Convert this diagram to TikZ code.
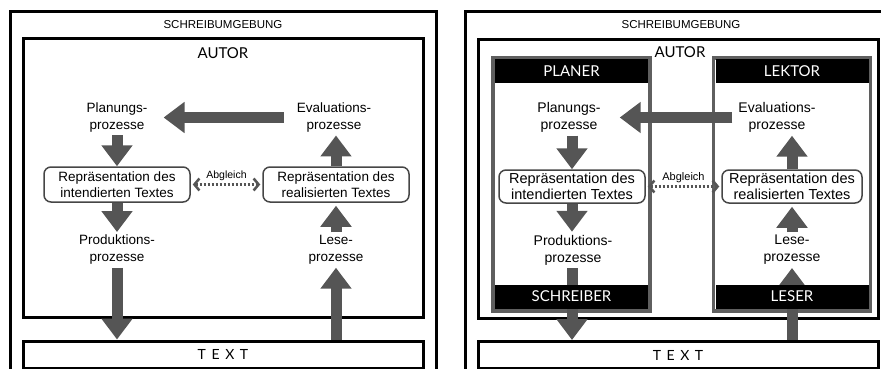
\documentclass[tikz,border=0pt]{standalone}
\usepackage{fontspec}
\setmainfont{Liberation Sans}
\newfontfamily\labelfont{Lato}
\newfontfamily\spacedfont[LetterSpace=40]{Lato}
\usepackage{tikz}
\usetikzlibrary{arrows.meta}
\usetikzlibrary{calc}

\begin{document}
\begin{tikzpicture}[x=1pt, y=-1pt,
 every text node part/.style={align=center},
 frame/.style={draw=black, line width=3pt},
 envlabel/.style={inner sep=1pt, font=\fontsize{11.5}{14}\selectfont},
 autlabel/.style={inner sep=1pt, font=\labelfont\fontsize{15}{18}\selectfont},
 textbox/.style={rectangle, draw=black, line width=3pt, fill=white, inner sep=0pt, minimum width=400pt, minimum height=27pt, font=\spacedfont\fontsize{14}{17}\selectfont},
 role/.style={rectangle, draw=rolegray, line width=3.5pt, fill=white, inner sep=0pt, minimum width=157pt, minimum height=253pt},
 band/.style={rectangle, fill=black, inner sep=0pt, minimum width=153pt, minimum height=24pt, text=white, font=\labelfont\fontsize{15}{18}\selectfont},
 proc/.style={inner sep=3pt, font=\fontsize{13.5}{17}\selectfont},
 rep/.style={rectangle, rounded corners=7pt, draw=repgray, line width=1.5pt, fill=white, inner sep=0pt, minimum width=146pt, minimum height=35pt, font=\fontsize{13.5}{15.5}\selectfont},
 bigarrow/.style={-{Triangle[length=21pt,width=30pt]}, line width=11pt, draw=arrowgray},
 match/.style={{Straight Barb[length=5pt,width=12pt,line width=2.5pt]}-{Straight Barb[length=5pt,width=12pt,line width=2.5pt]}, line width=3pt, dash pattern=on 2.5pt off 1.5pt, draw=arrowgray},
 matchlabel/.style={inner sep=1pt, font=\fontsize{10.5}{12}\selectfont}]

    \definecolor{arrowgray}{RGB}{85,85,85}
    \definecolor{rolegray}{RGB}{95,95,95}
    \definecolor{repgray}{RGB}{70,70,70}

	\useasboundingbox (0,0) rectangle (881,369);
	\clip (0,0) rectangle (881,369);

	% left: one author
	\draw[frame] (10,12) rectangle (436,385);
	\node[envlabel] (env1) at (223,25) {SCHREIBUMGEBUNG};
	\draw[frame] (23,39) rectangle (423,317);
	\node[autlabel] (autor1) at (223,53) {AUTOR};
	\node[textbox] (text1) at (223,354.5) {TEXT};

	\node[proc] (plan1) at (117,117.5) {Planungs-\\prozesse};
	\node[proc] (eval1) at (334,117.5) {Evaluations-\\prozesse};
	\node[rep] (repi1) at (117,184.5) {Repräsentation des\\intendierten Textes};
	\node[rep] (repr1) at (336,184.5) {Repräsentation des\\realisierten Textes};
	\node[proc] (prod1) at (117,250) {Produktions-\\prozesse};
	\node[proc] (lese1) at (336,250) {Lese-\\prozesse};

	\draw[bigarrow, shorten <=10pt, shorten >=13pt] (eval1.west) -- (plan1.east);
	\draw[bigarrow] (plan1.south) -- (repi1.north);
	\draw[bigarrow] (repi1.south) -- (prod1.north);
	\draw[bigarrow] (prod1.south) -- (prod1 |- text1.north);
	\draw[bigarrow] (lese1 |- text1.north) -- (lese1.south);
	\draw[bigarrow, shorten >=3pt] (lese1.north) -- (repr1.south);
	\draw[bigarrow] (repr1.north) -- (eval1.south -| repr1);
	\draw[match, shorten <=2pt, shorten >=2pt] (repi1.east) -- node[matchlabel, above=1pt] (abg1) {Abgleich} (repr1.west);

	% right: four roles
	\draw[frame] (465,12) rectangle (895,385);
	\node[envlabel] (env2) at (681,25) {SCHREIBUMGEBUNG};
	\draw[frame] (478,40) rectangle (878,318);
	\node[autlabel] (autor2) at (680,52) {AUTOR};
	\node[textbox] (text2) at (678,355) {TEXT};

	\node[role] (planer) at (571.5,184.5) {};
	\node[role] (lektor) at (792,184.5) {};
	\node[band] (planerhead) at (571.5,71.5) {PLANER};
	\node[band] (lektorhead) at (792,71.5) {LEKTOR};

	\node[proc, font=\fontsize{14}{17}\selectfont] (plan2) at (569,117.5) {Planungs-\\prozesse};
	\node[proc, font=\fontsize{14}{17}\selectfont] (eval2) at (777,117.5) {Evaluations-\\prozesse};
	\node[rep, minimum height=33pt, font=\fontsize{14.5}{16}\selectfont] (repi2) at (572,186.5) {Repräsentation des\\intendierten Textes};
	\node[rep, minimum width=140pt, minimum height=33pt, font=\fontsize{14.5}{16}\selectfont] (repr2) at (792,186.5) {Repräsentation des\\realisierten Textes};
	\node[proc, font=\fontsize{14}{17}\selectfont] (prod2) at (573,250) {Produktions-\\prozesse};
	\node[proc, font=\fontsize{14}{17}\selectfont] (lese2) at (792,250) {Lese-\\prozesse};

	\draw[bigarrow, shorten <=3pt, shorten >=16pt] (eval2.west) -- (plan2.east);
	\draw[bigarrow] (plan2.south -| repi2) -- (repi2.north);
	\draw[bigarrow] (repi2.south) -- (repi2 |- prod2.north);
	\draw[bigarrow] (prod2.south -| repi2) -- (repi2 |- text2.north);
	\draw[bigarrow] (lese2 |- text2.north) -- (lese2.south);
	\draw[bigarrow, shorten >=3pt] (lese2.north) -- (repr2.south);
	\draw[bigarrow] (repr2.north) -- (repr2 |- eval2.south);
	\draw[match, shorten <=2pt, shorten >=2pt] (repi2.east) -- node[matchlabel, font=\fontsize{11}{13}\selectfont, above=1pt] (abg2) {Abgleich} (repr2.west);

	\node[band] (schreiberfoot) at (571.5,296.5) {SCHREIBER};
	\node[band] (leserfoot) at (792,296.5) {LESER};
\end{tikzpicture}
\end{document}
